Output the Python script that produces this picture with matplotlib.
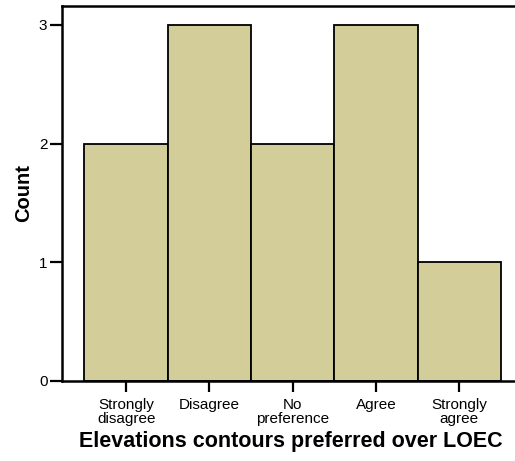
import matplotlib
matplotlib.use("Agg")
import matplotlib.pyplot as plt

categories = ["Strongly\ndisagree", "Disagree", "No\npreference", "Agree", "Strongly\nagree"]
counts = [2, 3, 2, 3, 1]
yticks = [0, 1, 2, 3]

plt.rcParams['font.family'] = ['Liberation Sans', 'DejaVu Sans']

fig = plt.figure(figsize=(5.15, 4.61), dpi=100)
ax = fig.add_axes([62/515, 1 - 381/461, 1 - 62/515 + 0.01, (381 - 6)/461])

x = list(range(len(categories)))
ax.bar(x, counts, width=1.0, color='#d3ce99', edgecolor='black', linewidth=1.3)

ax.set_xlim(-0.77, 4.73)
ax.set_ylim(0, 3.16)
ax.set_xticks(x)
ax.set_xticklabels(categories, fontsize=11, linespacing=1.0)
ax.set_yticks(yticks)
ax.set_yticklabels([str(v) for v in yticks], fontsize=11)
ax.tick_params(axis='x', which='major', bottom=True, top=False, direction='out',
               length=8, width=1.6, color='black', pad=4)
ax.tick_params(axis='y', which='major', left=True, right=False, direction='out',
               length=8.5, width=1.6, color='black', pad=2)

for s in ['left', 'bottom', 'top', 'right']:
    ax.spines[s].set_linewidth(1.8)

ax.set_ylabel("Count", fontsize=14.5, fontweight='bold', labelpad=4)
ax.set_xlabel("Elevations contours preferred over LOEC", fontsize=15.5, fontweight='bold', labelpad=4)

fig.savefig("out.png", dpi=100)
